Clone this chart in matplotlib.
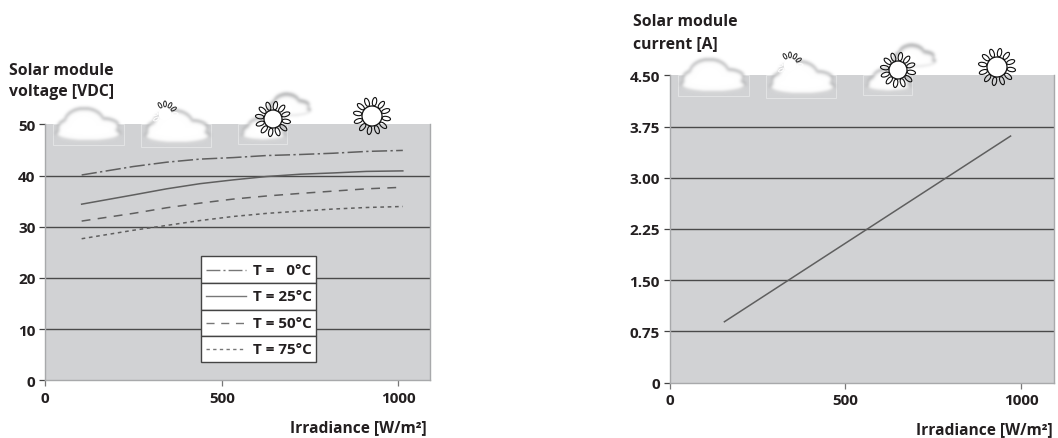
import numpy as np
import matplotlib
matplotlib.use("Agg")
import matplotlib.pyplot as plt
from matplotlib.patches import Circle, Ellipse, Rectangle

plt.rcParams['font.family'] = ['Open Sans', 'DejaVu Sans']

W, H = 1058, 439

# ===============================
# DATA
# ===============================
irradiance_v = [103, 249, 344, 438, 533, 627, 722, 816, 910, 1013]
voltage_t0 = [40.1, 41.75, 42.6, 43.2, 43.5, 43.9, 44.1, 44.35, 44.7, 44.9]
voltage_t25 = [34.4, 36.2, 37.4, 38.4, 39.15, 39.8, 40.25, 40.5, 40.8, 40.9]
voltage_t50 = [31.1, 32.6, 33.7, 34.6, 35.4, 36.0, 36.5, 36.95, 37.4, 37.7]
voltage_t75 = [27.65, 29.3, 30.25, 31.2, 32.0, 32.6, 33.05, 33.45, 33.75, 33.95]

irradiance_i = [156, 969]
current = [0.89, 3.61]

x_ticks = [0, 500, 1000]
v_ticks = [0, 10, 20, 30, 40, 50]
i_ticks = [0, 0.75, 1.5, 2.25, 3.0, 3.75, 4.5]
i_labels = ['0', '0.75', '1.50', '2.25', '3.00', '3.75', '4.50']

legend_labels = ['T =   0°C', 'T = 25°C', 'T = 50°C', 'T = 75°C']

# line styles in the same order as the legend
styles = [(0, (10, 2.2, 1.5, 2.2)), '-', (0, (5.8, 4.8)), (0, (2.4, 2.4))]

GREY = '#d1d2d4'
TEXT = '#231f20'
LINE = '#5f5f5f'
FS = 11


def make_axes(fig, left, top, right, bottom):
    return fig.add_axes([left / W, 1 - bottom / H, (right - left) / W, (bottom - top) / H])


def style_axes(ax, xmax, ymax, yticks, ylabels):
    ax.set_facecolor(GREY)
    ax.set_xlim(0, xmax)
    ax.set_ylim(0, ymax)
    ax.set_xticks(x_ticks)
    ax.set_yticks(yticks)
    ax.set_yticklabels(ylabels)
    ax.tick_params(axis='y', length=4, width=0.9, color='#444444', pad=3,
                   labelsize=FS, labelcolor=TEXT)
    ax.tick_params(axis='x', length=4.5, width=0.9, color='#777777', pad=3,
                   labelsize=FS, labelcolor=TEXT)
    for lab in ax.get_xticklabels() + ax.get_yticklabels():
        lab.set_fontweight('bold')
    for side, sp in ax.spines.items():
        sp.set_color('#a8a9ab')
        sp.set_linewidth(1.0)
    ax.spines['top'].set_visible(False)
    # gridlines sit on the ticks, skip both ends of the scale
    for y in yticks[1:-1]:
        ax.axhline(y, color='#4a4a4a', lw=1.0, zorder=1)


# ===============================
# ICONS (soft clouds and suns)
# ===============================
CLOUD = [(0, 10, 33, 8), (-4, -2, 20, 14), (14, 2, 17, 8), (-18, 4, 13, 9)]


def blur(a, sigma):
    r = int(sigma * 6) + 1
    kernel = np.exp(-0.5 * (np.arange(-r, r + 1) / (sigma * 2)) ** 2)
    kernel = kernel / kernel.sum()
    a = np.apply_along_axis(lambda v: np.convolve(v, kernel, mode='same'), 0, a)
    a = np.apply_along_axis(lambda v: np.convolve(v, kernel, mode='same'), 1, a)
    return a


def blob(ov, cx, cy, scale, color, sigma, strength=1.0, grow=0.0):
    x0, x1 = cx - 55 * scale, cx + 55 * scale
    y0, y1 = cy - 38 * scale, cy + 38 * scale
    xs = np.arange(x0, x1, 0.5)
    ys = np.arange(y0, y1, 0.5)
    xx, yy = np.meshgrid(xs, ys)
    mask = np.zeros(xx.shape)
    for ex, ey, rx, ry in CLOUD:
        r = np.hypot((xx - cx - ex * scale) / (rx * scale + grow),
                     (yy - cy - ey * scale) / (ry * scale + grow))
        mask[r < 1] = 1
    rgba = np.zeros(xx.shape + (4,))
    rgba[..., :3] = matplotlib.colors.to_rgb(color)
    rgba[..., 3] = np.clip(blur(mask, sigma), 0, 1) * strength
    ov.imshow(rgba, extent=(x0, x1, y1, y0), aspect='auto', interpolation='bilinear', zorder=3)


def cloud(ov, cx, cy, scale=1.0, box=None):
    if box:
        ov.add_patch(Rectangle((box[0], box[1]), box[2], box[3], fill=False,
                               ec='#e3e4e5', lw=0.7, zorder=2.5))
    blob(ov, cx, cy - 1.0, scale, '#8f9092', 1.5, 0.8)
    blob(ov, cx, cy + 0.5, scale, '#ffffff', 1.8, 1.0, grow=-1.0)


def sun(ov, cx, cy, r, petal_colors):
    n = len(petal_colors)
    for k, col in enumerate(petal_colors):
        ang = 360 * k / n - 80
        px = cx + (r + 4.5) * np.cos(np.radians(ang))
        py = cy + (r + 4.5) * np.sin(np.radians(ang))
        ov.add_patch(Ellipse((px, py), 8.5, 4.2, angle=ang, fc='none', ec=col, lw=0.8, zorder=4))
    ov.add_patch(Circle((cx, cy), r, fc='white', ec=petal_colors[0], lw=0.9, zorder=5))


def draw_icons(ov, dx, dy):
    cloud(ov, 88 + dx, 125 + dy, 1.0, (53 + dx, 125 + dy, 71, 21))
    cloud(ov, 177 + dx, 127 + dy, 1.0, (141 + dx, 125 + dy, 70, 23))
    cloud(ov, 289 + dx, 105.5 + dy, 0.65)
    cloud(ov, 263 + dx, 130 + dy, 0.68, (238 + dx, 125 + dy, 49, 20))
    sun(ov, 273 + dx, 120 + dy, 9, ['#111111'] * 12)
    sun(ov, 372 + dx, 117 + dy, 10, ['#111111'] * 12)

    # half hidden sun, only the upper petals show up black
    cols = ['white'] * 12
    cols[0] = cols[1] = cols[11] = cols[2] = '#222222'
    for k, col in enumerate(cols):
        ang = 360 * k / 12 - 90
        px = 165 + dx + 10 * np.cos(np.radians(ang))
        py = 115 + dy + 10 * np.sin(np.radians(ang))
        ov.add_patch(Ellipse((px, py), 6, 2.8, angle=ang, fc='none', ec=col, lw=0.7, zorder=4))
    ov.add_patch(Circle((165 + dx, 115 + dy), 6.5, fc='white', ec='none', zorder=5))


# ===============================
# FIGURE
# ===============================
fig = plt.figure(figsize=(W / 100, H / 100), dpi=100)

ax1 = make_axes(fig, 45.3, 125.3, 430, 381.3)
style_axes(ax1, 1090, 50, v_ticks, [str(v) for v in v_ticks])
for vals, ls in zip([voltage_t0, voltage_t25, voltage_t50, voltage_t75], styles):
    ax1.plot(irradiance_v, vals, color=LINE, lw=1.1, linestyle=ls, zorder=2)

ax2 = make_axes(fig, 669.5, 76.3, 1053.5, 383.5)
style_axes(ax2, 1091, 4.5, i_ticks, i_labels)
ax2.plot(irradiance_i, current, color=LINE, lw=1.1, zorder=2)

# overlay in pixel units for the texts, legend box and icons
ov = fig.add_axes([0, 0, 1, 1], facecolor='none')
ov.axis('off')

draw_icons(ov, 0, 0)
draw_icons(ov, 625, -49)

rows = [257.3, 284, 310.7, 337, 363.3]
for i, (label, ls) in enumerate(zip(legend_labels, styles)):
    top, bottom = rows[i], rows[i + 1]
    ov.add_patch(Rectangle((200.7, top), 115.3, bottom - top, fc='white', ec='#444444', lw=1.0, zorder=6))
    ymid = (top + bottom) / 2
    ov.plot([206, 246], [ymid, ymid], color='#777777', lw=1.0, linestyle=ls, zorder=7)
    ov.text(253, ymid, label, fontsize=FS, fontweight='bold', color=TEXT, va='center', ha='left', zorder=7)

for x, y, s in [(9, 75, 'Solar module'), (9, 96.5, 'voltage [VDC]'),
                (633, 26, 'Solar module'), (633, 48, 'current [A]')]:
    ov.text(x, y, s, fontsize=11.3, fontweight='bold', color=TEXT, va='baseline', ha='left')

ov.text(427, 432, 'Irradiance [W/m²]', fontsize=11.2, fontweight='bold', color=TEXT, va='baseline', ha='right')
ov.text(1052.5, 434.5, 'Irradiance [W/m²]', fontsize=11.2, fontweight='bold', color=TEXT, va='baseline', ha='right')

ov.set_xlim(0, W)
ov.set_ylim(H, 0)

fig.savefig('out.png', dpi=100)
